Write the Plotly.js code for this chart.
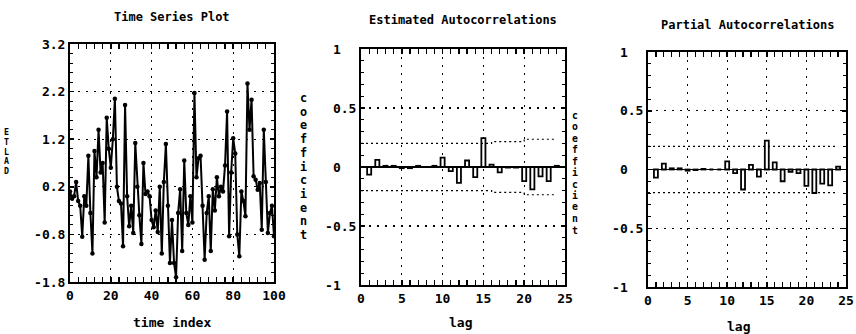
<!DOCTYPE html>
<html><head><meta charset="utf-8">
<script src="https://cdn.plot.ly/plotly-3.0.1.min.js"></script>
<style>html,body{margin:0;padding:0;background:#fff}#chart{width:856px;height:334px}</style>
</head><body><div id="chart"></div>
<script>
// ---- data ----
const timeIndex = [0,1,2,3,4,5,6,7,8,9,10,11,12,13,14,15,16,17,18,19,20,21,22,23,24,25,26,27,28,29,30,31,32,33,34,35,36,37,38,39,40,41,42,43,44,45,46,47,48,49,50,51,52,53,54,55,56,57,58,59,60,61,62,63,64,65,66,67,68,69,70,71,72,73,74,75,76,77,78,79,80,81,82,83,84,85,86,87,88,89,90,91,92,93,94,95,96,97,98,99,100];
const etlad = [0.1,-0.05,0.0,0.3,-0.1,-0.2,-0.85,0.0,-0.2,0.85,-0.35,-1.2,0.95,0.4,1.4,0.5,0.7,-0.55,1.65,1.0,
  0.6,1.2,2.05,0.2,-0.1,-0.15,-1.05,1.92,0.0,-0.63,-0.2,-0.77,1.12,0.2,-0.4,-1.0,0.7,0.05,0.1,0.0,
  -0.5,-0.65,-0.3,-0.75,0.2,-1.2,0.3,1.1,-0.2,-1.4,-0.5,-1.4,-1.7,-0.35,0.15,-1.15,0.75,-0.35,-0.6,0.0,
  -0.55,2.17,0.4,0.8,0.85,-0.2,-1.33,-0.35,0.0,-1.15,0.15,-0.3,0.4,0.0,0.2,0.1,0.65,1.78,-0.84,0.5,
  1.22,0.9,-0.8,-1.26,0.1,-0.1,-0.42,2.37,1.4,2.03,0.42,0.35,0.14,0.28,-0.7,1.4,0.3,-0.77,-0.35,-0.2,-0.84];

const lags = [1,2,3,4,5,6,7,8,9,10,11,12,13,14,15,16,17,18,19,20,21,22,23,24];
const acf  = [-0.065,0.06,0.01,0.01,-0.01,-0.01,0.01,0.0,0.01,0.08,-0.035,-0.135,0.055,-0.085,0.245,0.02,-0.045,-0.005,-0.005,-0.12,-0.19,-0.08,-0.12,0.01];
const pacf = [-0.07,0.05,0.01,0.01,-0.01,-0.005,0.005,0.0,0.0,0.07,-0.03,-0.17,0.04,-0.06,0.245,0.06,-0.1,-0.02,-0.03,-0.14,-0.2,-0.12,-0.135,0.025];

const acfBandLag   = [0,16,16,20,20,24];
const acfBandUpper = [0.2,0.2,0.215,0.215,0.235,0.235];
const acfBandLower = [-0.2,-0.2,-0.215,-0.215,-0.235,-0.235];
const pacfBandLag   = [0,24];
const pacfBandUpper = [0.196,0.196];
const pacfBandLower = [-0.196,-0.196];

const tsYTicks = [3.2,2.2,1.2,0.2,-0.8,-1.8];
const tsYText  = [' 3.2',' 2.2',' 1.2',' 0.2','-0.8','-1.8'];
const tsXTicks = [0,20,40,60,80,100];
const corYTicks = [1,0.5,0,-0.5,-1];
const corYText  = ['\u00a01\u00a0\u00a0','\u00a00.5','\u00a00\u00a0\u00a0','-0.5','-1\u00a0\u00a0'];
const lagTicks = [0,5,10,15,20,25];

const titles = ['Time Series Plot','Estimated Autocorrelations','Partial Autocorrelations'];
const yLabels = ['ETLAD','coefficient','coefficient'];
const xLabels = ['time index','lag','lag'];

// ---- chart ----
const W = 856, H = 334;
const MONO = '"DejaVu Sans Mono", "Liberation Mono", monospace';
const px = v => v / W, py = v => 1 - v / H;

const traces = [
  {x: timeIndex, y: etlad, type: 'scatter', mode: 'lines+markers', xaxis: 'x', yaxis: 'y',
   line: {color: '#000', width: 2}, marker: {color: '#000', size: 4.5}, hoverinfo: 'skip'},
  {x: acfBandLag, y: acfBandUpper, type: 'scatter', mode: 'lines', xaxis: 'x2', yaxis: 'y2',
   line: {color: '#000', width: 1.2, dash: '2px,3px'}},
  {x: acfBandLag, y: acfBandLower, type: 'scatter', mode: 'lines', xaxis: 'x2', yaxis: 'y2',
   line: {color: '#000', width: 1.2, dash: '2px,3px'}},
  {x: lags, y: acf, type: 'bar', xaxis: 'x2', yaxis: 'y2', width: 0.5,
   marker: {color: '#fff', line: {color: '#000', width: 1.8}}},
  {x: pacfBandLag, y: pacfBandUpper, type: 'scatter', mode: 'lines', xaxis: 'x3', yaxis: 'y3',
   line: {color: '#000', width: 1.2, dash: '2px,3px'}},
  {x: pacfBandLag, y: pacfBandLower, type: 'scatter', mode: 'lines', xaxis: 'x3', yaxis: 'y3',
   line: {color: '#000', width: 1.2, dash: '2px,3px'}},
  {x: lags, y: pacf, type: 'bar', xaxis: 'x3', yaxis: 'y3', width: 0.5,
   marker: {color: '#fff', line: {color: '#000', width: 1.8}}}
];

const tickFont = {family: MONO, size: 13, color: '#000', weight: 'bold'};
function xAx(dom, range, tv, minorD, anchor) {
  return {domain: dom, range: range, anchor: anchor, tickmode: 'array', tickvals: tv,
    ticks: 'inside', ticklen: 5, tickwidth: 1.5, tickcolor: '#000',
    showline: true, linewidth: 2, linecolor: '#000', mirror: 'ticks',
    showgrid: true, gridcolor: '#000', gridwidth: 1.3, griddash: '2px,6px', zeroline: false,
    minor: {dtick: minorD, ticks: 'inside', ticklen: 5, tickwidth: 1.2, tickcolor: '#000', showgrid: false},
    tickfont: tickFont, fixedrange: true};
}
function yAx(dom, range, tv, tt, minorD, anchor, zl) {
  return {domain: dom, range: range, anchor: anchor, tickmode: 'array', tickvals: tv, ticktext: tt,
    ticks: 'inside', ticklen: 4, tickwidth: 1.5, tickcolor: '#000',
    showline: true, linewidth: 2, linecolor: '#000', mirror: 'ticks',
    showgrid: true, gridcolor: '#000', gridwidth: 1.3, griddash: '2px,6px',
    zeroline: zl, zerolinecolor: '#000', zerolinewidth: 1.8,
    minor: {dtick: minorD, ticks: 'inside', ticklen: 3, tickwidth: 1, tickcolor: '#000', showgrid: false},
    tickfont: tickFont, fixedrange: true};
}

const annotations = [];
const titlePos = [[172, 17], [463, 20], [747, 25]];
titles.forEach((t, i) => annotations.push({text: '<b>' + t + '</b>', x: px(titlePos[i][0]), y: py(titlePos[i][1]),
  xref: 'paper', yref: 'paper', showarrow: false, xanchor: 'center', yanchor: 'middle',
  font: {family: MONO, size: 12, color: '#000'}}));
const xlabPos = [[172, 322], [460, 322], [738, 326]];
xLabels.forEach((t, i) => annotations.push({text: '<b>' + t + '</b>', x: px(xlabPos[i][0]), y: py(xlabPos[i][1]),
  xref: 'paper', yref: 'paper', showarrow: false, xanchor: 'center', yanchor: 'middle',
  font: {family: MONO, size: 13, color: '#000'}}));
// vertical stacked axis labels: [x, first-letter y, letter spacing, font size]
const ylabPos = [[7, 132, 9.8, 8.3], [303, 98, 13.7, 11.8], [575, 115, 11.5, 9.8]];
yLabels.forEach((t, i) => t.split('').forEach((ch, k) => annotations.push({text: '<b>' + ch + '</b>',
  x: px(ylabPos[i][0]), y: py(ylabPos[i][1] + k * ylabPos[i][2]), xref: 'paper', yref: 'paper', showarrow: false,
  xanchor: 'center', yanchor: 'middle', borderpad: 0,
  font: {family: MONO, size: ylabPos[i][3], color: '#000'}})));

const layout = {
  width: W, height: H, margin: {l: 0, r: 0, t: 0, b: 0, pad: 0},
  paper_bgcolor: '#fff', plot_bgcolor: '#fff', showlegend: false, bargap: 0,
  font: {family: MONO, color: '#000'},
  xaxis:  xAx([px(70), px(274)], [0, 100], tsXTicks, 4, 'y'),
  yaxis:  yAx([py(282), py(44)], [-1.8, 3.2], tsYTicks, tsYText, 0.2, 'x', false),
  xaxis2: xAx([px(361), px(565)], [0, 25], lagTicks, 1, 'y2'),
  yaxis2: yAx([py(285), py(49)], [-1, 1], corYTicks, corYText, 0.1, 'x2', true),
  xaxis3: xAx([px(648), px(846)], [0, 25], lagTicks, 1, 'y3'),
  yaxis3: yAx([py(287), py(52)], [-1, 1], corYTicks, corYText, 0.1, 'x3', true),
  annotations: annotations
};
Plotly.newPlot('chart', traces, layout, {staticPlot: true, displayModeBar: false});
</script></body></html>
